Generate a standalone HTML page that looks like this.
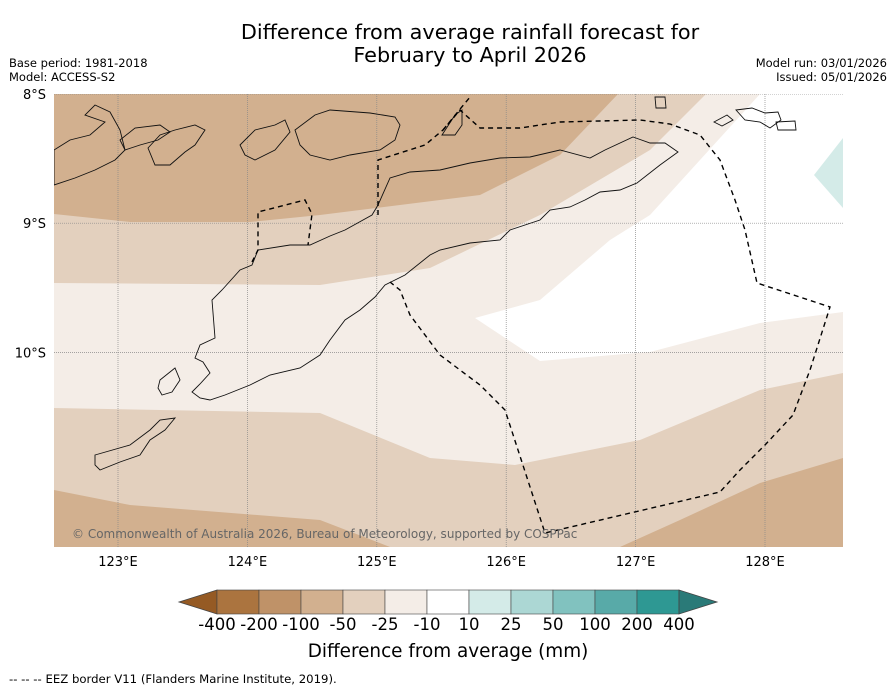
<!DOCTYPE html>
<html><head><meta charset="utf-8"><style>
body{margin:0;background:#fff;font-family:"DejaVu Sans","Liberation Sans",sans-serif;}
svg text{font-family:"DejaVu Sans","Liberation Sans",sans-serif;}
</style></head><body>
<svg id="chart" width="896" height="690" viewBox="0 0 896 690" xmlns="http://www.w3.org/2000/svg">
<text x="470" y="39" font-size="20.8" text-anchor="middle">Difference from average rainfall forecast for</text>
<text x="470" y="62" font-size="20.8" text-anchor="middle">February to April 2026</text>
<text x="9" y="67" font-size="11.5">Base period: 1981-2018</text>
<text x="9" y="81" font-size="11.5">Model: ACCESS-S2</text>
<text x="887" y="67" font-size="11.5" text-anchor="end">Model run: 03/01/2026</text>
<text x="887" y="81" font-size="11.5" text-anchor="end">Issued: 05/01/2026</text>
<defs><clipPath id="mc"><rect x="54" y="94" width="789" height="453"/></clipPath></defs>
<g id="map" clip-path="url(#mc)">
<rect x="54" y="94" width="789" height="453" fill="#f4ede7"/>
<polygon fill="#e3d0be" points="54,94 706,94 650,150 540,215 430,268 320,285 54,283"/>
<polygon fill="#e3d0be" points="54,408 320,413 430,458 515,465 640,440 760,390 843,373 843,547 54,547"/>
<polygon fill="#d2b08f" points="54,94 618,94 560,155 480,195 400,205 320,215 250,222 130,222 54,214"/>
<polygon fill="#d2b08f" points="843,458 760,483 680,520 620,547 843,547"/>
<polygon fill="#d2b08f" points="54,490 130,505 320,520 390,547 54,547"/>
<polygon fill="#ffffff" points="706,94 843,94 843,312 760,323 650,352 540,361 475,318 540,300 610,240 650,215 700,160 760,94"/>
<polygon fill="#d4ebe8" points="843,138 814,175 843,208"/>
<g id="grid" stroke="#888" stroke-width="0.7" stroke-dasharray="1,1"></g>
<g fill="none" stroke="#111" stroke-width="0.9">
<polygon points="195,358 200,345 215,338 212,300 222,290 240,270 252,265 258,250 290,245 310,245 330,236 345,230 372,215 378,205 390,178 410,172 440,170 470,163 500,158 530,157 560,150 590,158 605,150 633,137 650,143 665,143 678,152 660,165 637,183 620,190 600,192 585,200 570,207 550,210 540,220 510,230 500,240 470,243 440,250 430,255 405,275 385,285 375,297 360,310 345,320 330,340 320,355 300,368 270,375 250,385 225,395 210,400 200,398 192,392 200,384 210,373 203,362"/>
<polygon points="160,380 170,372 175,368 180,380 172,392 162,395 158,388"/>
<polygon points="95,455 130,445 150,430 160,420 175,418 165,430 150,440 140,455 120,462 100,470 95,465"/>
<polygon points="54,150 70,140 90,135 105,122 85,115 95,105 110,112 120,130 125,150 115,160 95,170 75,178 54,185"/>
<polygon points="120,140 135,128 160,125 170,132 158,140 140,145 125,150"/>
<polygon points="148,148 160,135 175,130 195,125 205,130 195,145 185,152 170,165 155,165"/>
<polygon points="240,145 255,130 275,125 285,120 290,132 275,150 255,160 245,155"/>
<polygon points="295,130 315,115 330,110 370,113 395,117 400,125 395,140 380,150 350,155 330,160 310,155 300,145"/>
<polygon points="442,135 455,115 462,110 462,125 455,135"/>
<polygon points="655,97 665,97 666,108 656,108"/>
<polygon points="714,122 727,115 733,120 722,126"/>
<polygon points="736,110 752,108 765,113 778,112 781,120 770,128 760,122 745,120"/>
<polygon points="776,122 795,121 796,130 778,130"/>
</g>
<g fill="none" stroke="#000" stroke-width="1.4" stroke-dasharray="5,4">
<polyline points="378,215 378,160 425,145 443,130 460,110 480,128 520,128 560,122 600,121 640,120 670,124 700,135 720,160 735,200 745,230 757,283 830,307 810,370 793,415 765,445 740,470 720,492 545,533 505,410 480,385 440,355 410,315 400,290 390,282"/>
<polyline points="252,262 258,250 258,212 305,200 312,214 308,245"/>
<polyline points="443,130 470,97"/>
</g>
</g>
<text x="72" y="538" font-size="12" fill="#666">© Commonwealth of Australia 2026, Bureau of Meteorology, supported by COSPPac</text>
<g id="axes"></g>
<g id="colorbar"></g>
<text x="448" y="657" font-size="18.4" text-anchor="middle">Difference from average (mm)</text>
<text x="9" y="683" font-size="11.7">--  --  -- EEZ border V11 (Flanders Marine Institute, 2019).</text>
</svg>
<script>
const lonTicks=[123,124,125,126,127,128];
const latTicks=[8,9,10];
const cbLevels=["-400","-200","-100","-50","-25","-10","10","25","50","100","200","400"];
const cbColors=["#ab743f","#bf9268","#d2b08f","#e3d0be","#f4ede7","#ffffff","#d4ebe8","#acd7d4","#81c2bf","#58aaa8","#2e9893"];
const NS="http://www.w3.org/2000/svg";
const xLon=l=>118+(l-123)*129.4;
const yLat=l=>94+(l-8)*129.2;
function mk(t,a,p){const e=document.createElementNS(NS,t);for(const k in a)e.setAttribute(k,a[k]);p.appendChild(e);return e;}
const grid=document.getElementById('grid'),axes=document.getElementById('axes');
lonTicks.forEach(l=>{const x=xLon(l);
 const g=mk('line',{x1:x,x2:x,y1:94,y2:547},grid);
 
 
 const t=mk('text',{x:x,y:566,'font-size':13,'text-anchor':'middle'},axes);t.textContent=l+'°E';
 
 });
latTicks.forEach(l=>{const y=yLat(l);
 const g=mk('line',{x1:54,x2:843,y1:y,y2:y},grid);
 
 
 const t=mk('text',{x:46,y:y+5,'font-size':13,'text-anchor':'end'},axes);t.textContent=l+'°S';
 
 });
const cb=document.getElementById('colorbar');
const cx0=217,cw=42,cy=590,ch=24;
const la=mk('polygon',{points:`${cx0},${cy} ${cx0},${cy+ch} 179,${cy+ch/2}`,fill:'#955a24',stroke:'#444','stroke-width':0.8},cb);


cbColors.forEach((c,i)=>{const r=mk('rect',{x:cx0+i*cw,y:cy,width:cw,height:ch,fill:c,stroke:'#444','stroke-width':0.6},cb);
 
 });
const xe=cx0+cbColors.length*cw;
const ra=mk('polygon',{points:`${xe},${cy} ${xe},${cy+ch} 717,${cy+ch/2}`,fill:'#2a7a78',stroke:'#444','stroke-width':0.8},cb);


cbLevels.forEach((v,i)=>{const t=mk('text',{x:cx0+i*cw,y:630,'font-size':16.5,'text-anchor':'middle'},cb);t.textContent=v;
 
 });
</script>
</body></html>
